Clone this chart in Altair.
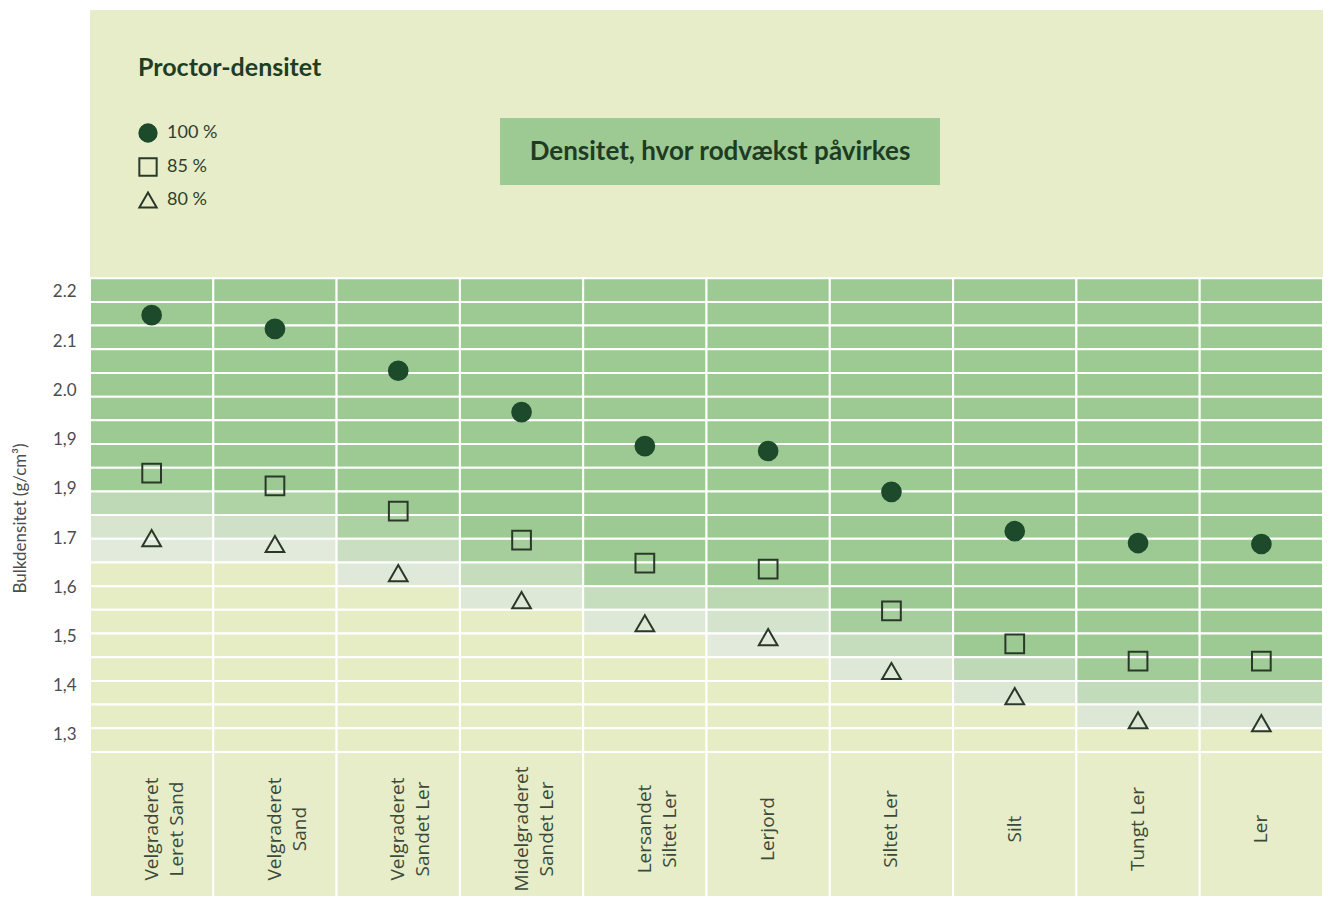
import altair as alt
import pandas as pd
import numpy as np

# ---------------- data ----------------
soils = [
    "Velgraderet\nLeret Sand",
    "Velgraderet\nSand",
    "Velgraderet\nSandet Ler",
    "Midelgraderet\nSandet Ler",
    "Lersandet\nSiltet Ler",
    "Lerjord",
    "Siltet Ler",
    "Silt",
    "Tungt Ler",
    "Ler",
]
dens_100 = [2.153, 2.125, 2.040, 1.956, 1.887, 1.877, 1.794, 1.714, 1.690, 1.688]
dens_85 = [1.832, 1.806, 1.755, 1.696, 1.649, 1.637, 1.552, 1.485, 1.450, 1.450]
dens_80 = [1.700, 1.688, 1.629, 1.574, 1.527, 1.499, 1.430, 1.379, 1.330, 1.324]
series = ["100 %", "85 %", "80 %"]

y_tick_values = [2.2, 2.1, 2.0, 1.9, 1.8, 1.7, 1.6, 1.5, 1.4, 1.3]
y_tick_labels = ["2.2", "2.1", "2.0", "1,9", "1,9", "1.7", "1,6", "1,5", "1,4", "1,3"]

legend_title = "Proctor-densitet"
box_label = "Densitet, hvor rodvækst påvirkes"
y_title = "Bulkdensitet (g/cm³)"

# ---------------- styling / layout ----------------
GREEN = "#9dca93"
PALE = "#e2eadb"
YELLOW = "#e6ecc4"
BG = "#e7edc8"
DARK = "#1d4a2b"
OUTLINE = "#2a382a"

W, H = 1233, 886
Y_DOMAIN = [0.9729, 2.7729]
GRID_TOP, GRID_BOTTOM, N_BANDS = 2.228, 1.2655, 20

def hex2rgb(h):
    return np.array([int(h[i:i + 2], 16) for i in (1, 3, 5)], dtype=float)

def mix(c0, c1, t):
    c = hex2rgb(c0) * (1 - t) + hex2rgb(c1) * t
    return "#%02x%02x%02x" % tuple(int(round(v)) for v in c)

def shade(mid, v85, v80):
    hi = v85 - 0.01
    lo = v80 - 0.01
    if mid >= hi:
        return GREEN
    if mid < v80 - 0.03:
        return YELLOW
    t = max(0.0, (mid - lo) / (hi - lo)) ** 1.3
    return mix(PALE, GREEN, t)

edges = np.linspace(GRID_TOP, GRID_BOTTOM, N_BANDS + 1)
cells = []
for s, v85, v80 in zip(soils, dens_85, dens_80):
    for a, b in zip(edges[:-1], edges[1:]):
        cells.append({"soil": s, "y0": a, "y1": b, "cellfill": shade((a + b) / 2, v85, v80)})
    cells.append({"soil": s, "y0": GRID_BOTTOM, "y1": 0.85, "cellfill": BG})
cells_df = pd.DataFrame(cells)

pts = []
for s, a, b, c in zip(soils, dens_100, dens_85, dens_80):
    pts.append({"soil": s, "dens": a, "proctor": series[0]})
    pts.append({"soil": s, "dens": b, "proctor": series[1]})
    pts.append({"soil": s, "dens": c, "proctor": series[2]})
pts_df = pd.DataFrame(pts)

label_df = pd.DataFrame({"soil": soils})

xscale = alt.Scale(domain=soils, paddingInner=0, paddingOuter=0)
yscale = alt.Scale(domain=Y_DOMAIN, nice=False, zero=False)

label_expr = ""
for v, l in zip(y_tick_values, y_tick_labels):
    label_expr += f"datum.label == '{v:.1f}' ? '{l}' : "
label_expr += "datum.label"

yaxis = alt.Axis(
    values=y_tick_values, format=".1f", labelExpr=label_expr,
    domain=False, ticks=False, grid=False,
    labelFont="Lato", labelFontSize=17, labelColor="#4d4d4d", labelPadding=14,
    title=y_title, titleFont="Lato", titleFontSize=17, titleFontWeight="normal",
    titleColor="#4d4d4d", titleX=-70, titleY=508, titleAngle=270,
    titleAlign="center", titleBaseline="middle",
)

cells_layer = alt.Chart(cells_df).mark_rect(stroke="white", strokeWidth=2).encode(
    x=alt.X("soil:N", scale=xscale, axis=None),
    y=alt.Y("y0:Q", scale=yscale, axis=yaxis),
    y2="y1:Q",
    color=alt.Color("cellfill:N", scale=None),
)

points_layer = alt.Chart(pts_df).mark_point(strokeWidth=2, opacity=1, size=350).encode(
    x=alt.X("soil:N", scale=xscale, axis=None),
    y=alt.Y("dens:Q", scale=yscale, axis=yaxis),
    shape=alt.Shape("proctor:N", scale=alt.Scale(domain=series, range=["circle", "square", "triangle-up"]),
                    title=legend_title),
    fill=alt.Fill("proctor:N", scale=alt.Scale(domain=series, range=[DARK, "transparent", "transparent"]),
                  title=legend_title),
    stroke=alt.Stroke("proctor:N", scale=alt.Scale(domain=series, range=[DARK, OUTLINE, OUTLINE]),
                      title=legend_title),
)

labels_layer = alt.Chart(label_df).mark_text(
    angle=270, align="center", baseline="middle", lineBreak="\n",
    font="Open Sans", fontSize=19, lineHeight=25, color="#3b4a3b",
).encode(
    x=alt.X("soil:N", scale=xscale, axis=None),
    y=alt.value(819),
    text="soil:N",
)

box_df = pd.DataFrame({"label": [box_label]})
box_layer = alt.Chart(box_df).mark_rect(fill=GREEN).encode(
    x=alt.value(410), x2=alt.value(850), y=alt.value(108), y2=alt.value(175),
)
box_text = alt.Chart(box_df).mark_text(
    font="Lato", fontSize=26, fontWeight="bold", color="#1f3b23", align="center", baseline="middle",
).encode(
    x=alt.value(630), y=alt.value(142), text="label:N",
)

chart = alt.layer(cells_layer, points_layer, labels_layer, box_layer, box_text).properties(
    width=W, height=H,
    autosize=alt.AutoSizeParams(type="none"),
    padding={"left": 82, "top": 2, "right": 0, "bottom": 0},
    background="white",
).configure_view(
    fill=BG, stroke=None,
).configure_legend(
    orient="none", legendX=48, legendY=46, padding=0,
    titleFont="Lato", titleFontSize=25, titleFontWeight="bold", titleColor="#1e3d24",
    titlePadding=42, titleLimit=400,
    labelFont="Lato", labelFontSize=18, labelColor="#2f3f2f", labelOffset=9,
    symbolSize=300, symbolStrokeWidth=2, rowPadding=8,
)

chart.save("out.html", embed_options={"renderer": "svg", "actions": False})
